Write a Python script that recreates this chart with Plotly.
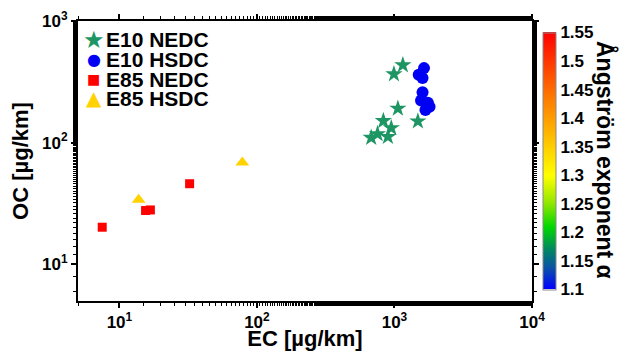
import math
import plotly.graph_objects as go

# ---- data ----
e10_nedc_ec = [1151, 991, 1059, 1480, 830, 948, 896, 677, 753]
e10_nedc_oc = [434, 366, 191, 150, 151, 132, 112, 110, 118]

e10_hsdc_ec = [1640, 1500, 1600, 1600, 1560, 1750, 1800, 1680]
e10_hsdc_oc = [410, 362, 340, 260, 222, 213, 197, 186]

e85_nedc_ec = [7.5, 15.5, 16.8, 32.4]
e85_nedc_oc = [20.2, 27.7, 28.0, 46.0]

e85_hsdc_ec = [13.8, 78.3]
e85_hsdc_oc = [33.9, 68.7]

series_names = ["E10 NEDC", "E10 HSDC", "E85 NEDC", "E85 HSDC"]
series_colors = ["#1E9664", "#0000F5", "#FF0000", "#FFD200"]

x_tickvals = [10, 100, 1000, 10000]
x_ticktext = ["10<sup>1</sup>", "10<sup>2</sup>", "10<sup>3</sup>", "10<sup>4</sup>"]
y_tickvals = [10, 100, 1000]
y_ticktext = ["10<sup>1</sup>", "10<sup>2</sup>", "10<sup>3</sup>"]

alpha_min, alpha_max = 1.1, 1.55
cb_tickvals = [1.1, 1.15, 1.2, 1.25, 1.3, 1.35, 1.4, 1.45, 1.5, 1.55]
cb_ticktext = ["1.1", "1.15", "1.2", "1.25", "1.3", "1.35", "1.4", "1.45", "1.5", "1.55"]

FONT = "Liberation Sans"
GLYPH_FONT = "DejaVu Sans"

colorscale = [
    [0.0, "rgb(0,0,255)"],
    [0.08, "rgb(10,80,170)"],
    [0.16, "rgb(0,140,90)"],
    [0.24, "rgb(0,215,0)"],
    [0.33, "rgb(140,230,0)"],
    [0.44, "rgb(255,255,0)"],
    [0.6, "rgb(255,185,0)"],
    [0.77, "rgb(255,110,0)"],
    [1.0, "rgb(255,0,0)"],
]

# page is rendered with the browser's default 8px body margin
PAGE_W, PAGE_H, OFF = 627, 351, 8
FIG_W, FIG_H = PAGE_W - OFF, PAGE_H - OFF
# plot area in page pixels
plot_l, plot_r, plot_t, plot_b = 78, 532, 21, 301
pw, ph = plot_r - plot_l, plot_b - plot_t


def px_to_paper_x(px):
    return (px - plot_l) / pw


def px_to_paper_y(py):
    return (plot_b - py) / ph


fig = go.Figure()
fig.add_trace(go.Scatter(x=e10_nedc_ec, y=e10_nedc_oc, mode="markers", name=series_names[0],
                         marker=dict(symbol="star", size=13, color=series_colors[0])))
fig.add_trace(go.Scatter(x=e10_hsdc_ec, y=e10_hsdc_oc, mode="markers", name=series_names[1],
                         marker=dict(symbol="circle", size=12, color=series_colors[1])))
fig.add_trace(go.Scatter(x=e85_nedc_ec, y=e85_nedc_oc, mode="markers", name=series_names[2],
                         marker=dict(symbol="square", size=9, color=series_colors[2])))
fig.add_trace(go.Scatter(x=e85_hsdc_ec, y=e85_hsdc_oc, mode="markers", name=series_names[3],
                         marker=dict(symbol="triangle-up", size=12, color=series_colors[3])))

# colour bar carrier
fig.add_trace(go.Scatter(
    x=[None], y=[None], mode="markers", showlegend=False, hoverinfo="skip",
    marker=dict(color=[alpha_min], cmin=alpha_min, cmax=alpha_max, colorscale=colorscale,
                showscale=True,
                colorbar=dict(x=px_to_paper_x(543), xanchor="left", xpad=0,
                              y=0.5, yanchor="middle",
                              len=0.99, lenmode="fraction", thickness=13,
                              outlinewidth=1, outlinecolor="#888",
                              tickvals=cb_tickvals, ticktext=cb_ticktext, ticks="",
                              tickfont=dict(family=FONT, size=17, color="black",
                                            weight="bold"))),
))

axis_common = dict(
    type="log", showgrid=False, zeroline=False, showline=True, linecolor="black",
    linewidth=2, mirror="ticks", ticks="outside", ticklen=5, tickwidth=1.5,
    tickcolor="black", automargin=False,
    minor=dict(ticks="outside", ticklen=3, tickcolor="black", tickwidth=1, showgrid=False),
    tickfont=dict(family=FONT, size=17, color="black", weight="bold"),
)

fig.update_xaxes(**axis_common, range=[math.log10(5), 4], tickvals=x_tickvals,
                 ticktext=x_ticktext,
                 title=dict(text="EC [µg/km]", standoff=0,
                            font=dict(family=FONT, size=22, color="black", weight="bold")))
fig.update_yaxes(**axis_common, range=[math.log10(5), 3], tickvals=y_tickvals,
                 ticktext=y_ticktext,
                 title=dict(text="OC [µg/km]", standoff=8,
                            font=dict(family=FONT, size=22, color="black", weight="bold")))

fig.add_annotation(text="Ångström exponent α", xref="paper", yref="paper",
                   x=px_to_paper_x(606), y=px_to_paper_y(160),
                   xanchor="center", yanchor="middle", textangle=90, showarrow=False,
                   font=dict(family=FONT, size=23, color="black", weight="bold"))

# legend drawn as text rows (symbol glyph + label)
legend_glyphs = ["★", "●", "■", "▲"]
legend_glyph_sizes = [24, 16, 14, 20]
row_y_px = [40, 60, 79, 98]
for name, color, glyph, gsize, ypx in zip(series_names, series_colors, legend_glyphs,
                                          legend_glyph_sizes, row_y_px):
    fig.add_annotation(text=glyph, xref="paper", yref="paper",
                       x=px_to_paper_x(93.5), y=px_to_paper_y(ypx),
                       xanchor="center", yanchor="middle", showarrow=False,
                       font=dict(family=GLYPH_FONT, size=gsize, color=color))
    fig.add_annotation(text=name, xref="paper", yref="paper",
                       x=px_to_paper_x(104), y=px_to_paper_y(ypx),
                       xanchor="left", yanchor="middle", showarrow=False,
                       font=dict(family=FONT, size=21, color="black", weight="bold"))

fig.update_layout(
    width=FIG_W, height=FIG_H, paper_bgcolor="white", plot_bgcolor="white",
    margin=dict(l=plot_l - OFF, r=PAGE_W - plot_r, t=plot_t - OFF, b=PAGE_H - plot_b,
                autoexpand=False),
    showlegend=False,
)

fig.write_html("out.html")
